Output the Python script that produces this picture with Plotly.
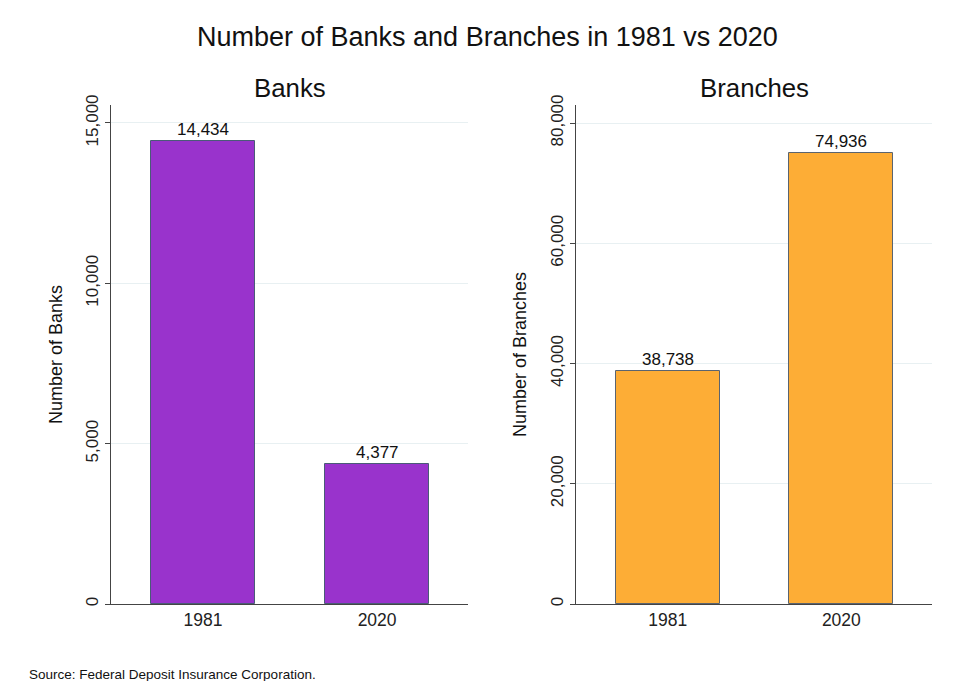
import plotly.graph_objects as go

years = ["1981", "2020"]
banks = [14434, 4377]
branches = [38738, 74936]
bank_ticks = [0, 5000, 10000, 15000]
branch_ticks = [0, 20000, 40000, 60000, 80000]

W, H = 956, 681
FONT = "Liberation Sans, Arial, sans-serif"

def px(x):
    return x / W

def py(y):
    return 1 - y / H

fig = go.Figure()
fig.add_trace(go.Bar(x=[0, 1], y=banks, width=0.6, marker=dict(color="#9933CC", line=dict(color="#4a5a78", width=1)),
                     xaxis="x", yaxis="y", showlegend=False))
fig.add_trace(go.Bar(x=[0, 1], y=branches, width=0.6, marker=dict(color="#FDAD36", line=dict(color="#5a6470", width=1)),
                     xaxis="x2", yaxis="y2", showlegend=False))

labels = []
for i, v in enumerate(banks):
    labels.append(dict(x=i, y=v, xref="x", yref="y", text=f"{v:,}", showarrow=False, yanchor="bottom",
                       xanchor="center", yshift=0, font=dict(size=17, color="#111")))
for i, v in enumerate(branches):
    labels.append(dict(x=i, y=v, xref="x2", yref="y2", text=f"{v:,}", showarrow=False, yanchor="bottom",
                       xanchor="center", yshift=0, font=dict(size=17, color="#111")))

xcommon = dict(tickvals=[0, 1], ticktext=years, range=[-0.528, 1.522], showline=True, linecolor="#444", linewidth=1,
               ticks="", showgrid=False, zeroline=False, tickfont=dict(size=17.5, color="#222"), fixedrange=True,
               automargin=False)
ycommon = dict(showline=True, linecolor="#444", linewidth=1, ticks="outside", ticklen=5, tickcolor="#444",
               tickangle=-90, tickformat=",", showgrid=True, gridcolor="#e8f0f2", gridwidth=1, zeroline=False,
               tickfont=dict(size=17, color="#222"), fixedrange=True, automargin=False)

fig.update_layout(
    template="none",
    width=W, height=H, margin=dict(l=0, r=0, t=0, b=0, pad=0),
    paper_bgcolor="white", plot_bgcolor="white",
    font=dict(family=FONT, color="#111"),
    bargap=0,
    xaxis=dict(domain=[px(111), px(468)], anchor="y", **xcommon),
    xaxis2=dict(domain=[px(576), px(932)], anchor="y2", **xcommon),
    yaxis=dict(domain=[py(604), py(105)], anchor="x", range=[0, 15560], tickvals=bank_ticks,
               title=dict(text="Number of Banks", font=dict(size=18, color="#111"), standoff=15), **ycommon),
    yaxis2=dict(domain=[py(604), py(105)], anchor="x2", range=[0, 82994], tickvals=branch_ticks,
                title=dict(text="Number of Branches", font=dict(size=18, color="#111"), standoff=16), **ycommon),
    annotations=labels + [
        dict(text="Number of Banks and Branches in 1981 vs 2020", x=px(487), y=py(37),
             xref="paper", yref="paper", showarrow=False, font=dict(size=27, color="#111"), xanchor="center", yanchor="middle"),
        dict(text="Banks", x=0.5 * (px(111) + px(468)), y=py(88), xref="paper", yref="paper", showarrow=False,
             font=dict(size=25.8, color="#111"), xanchor="center", yanchor="middle"),
        dict(text="Branches", x=0.5 * (px(576) + px(932)), y=py(88), xref="paper", yref="paper", showarrow=False,
             font=dict(size=25.8, color="#111"), xanchor="center", yanchor="middle"),
        dict(text="Source: Federal Deposit Insurance Corporation.", x=px(27), y=py(674), xref="paper", yref="paper",
             showarrow=False, font=dict(size=13.5, color="#111"), xanchor="left", yanchor="middle"),
    ],
)

fig.write_html("out.html")
